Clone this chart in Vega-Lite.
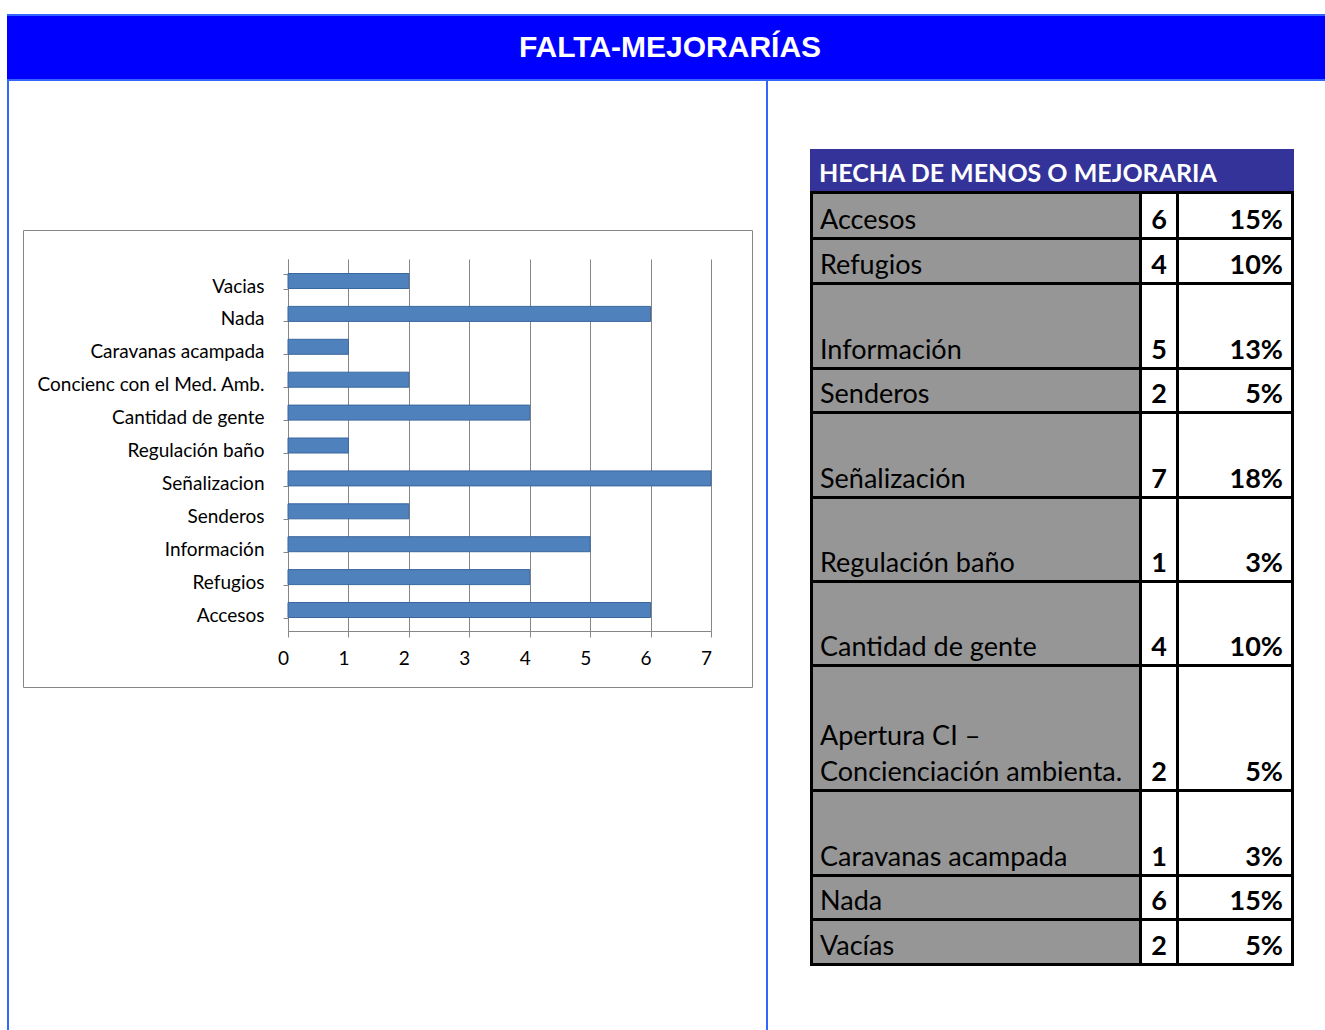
{
"$schema": "https://vega.github.io/schema/vega-lite/v6.json",
"padding": {"left": 7, "top": 14, "right": 0, "bottom": 0},
"background": "#ffffff",
"spacing": 0,
"config": {
  "view": {"stroke": null},
  "concat": {"spacing": 0},
  "style": {
    "lbl": {"align": "left", "baseline": "bottom", "dx": 7, "dy": -2.5, "font": "Lato", "fontSize": 27, "lineBreak": "\n", "lineHeight": 36},
    "num": {"align": "center", "baseline": "bottom", "dy": -2.5, "font": "Lato", "fontSize": 27, "fontWeight": "bold"},
    "pct": {"align": "right", "baseline": "bottom", "dx": -8, "dy": -2.5, "font": "Lato", "fontSize": 27, "fontWeight": "bold"},
    "hdr": {"align": "left", "baseline": "bottom", "dx": 9, "dy": -4, "font": "Lato", "fontSize": 25, "fontWeight": "bold"}
  }
},
"datasets": {
  "titulo": [{"texto": "FALTA-MEJORARÍAS"}],
  "encabezado": [{"texto": "HECHA DE MENOS O MEJORARIA"}],
  "filas": [
    {"tema": "Accesos", "grafico": "Accesos", "n": 6, "pct": 0.15},
    {"tema": "Refugios", "grafico": "Refugios", "n": 4, "pct": 0.10},
    {"tema": "Información", "grafico": "Información", "n": 5, "pct": 0.13},
    {"tema": "Senderos", "grafico": "Senderos", "n": 2, "pct": 0.05},
    {"tema": "Señalización", "grafico": "Señalizacion", "n": 7, "pct": 0.18},
    {"tema": "Regulación baño", "grafico": "Regulación baño", "n": 1, "pct": 0.03},
    {"tema": "Cantidad de gente", "grafico": "Cantidad de gente", "n": 4, "pct": 0.10},
    {"tema": "Apertura CI –\nConcienciación ambienta.", "grafico": "Concienc con el Med. Amb.", "n": 2, "pct": 0.05},
    {"tema": "Caravanas acampada", "grafico": "Caravanas acampada", "n": 1, "pct": 0.03},
    {"tema": "Nada", "grafico": "Nada", "n": 6, "pct": 0.15},
    {"tema": "Vacías", "grafico": "Vacias", "n": 2, "pct": 0.05}
  ]
},
"vconcat": [
  {"width": 1326, "height": 2, "view": {"fill": "#3366ff"}, "data": {"values": []}, "mark": "point"},
  {
    "width": 1326, "height": 63,
    "view": {"fill": "#0000ff"},
    "data": {"name": "titulo"},
    "mark": {"type": "text", "font": "Liberation Sans", "fontWeight": "bold", "fontSize": 30, "color": "#ffffff", "align": "center", "baseline": "middle"},
    "encoding": {"text": {"field": "texto"}}
  },
  {"width": 1326, "height": 2, "view": {"fill": "#3366ff"}, "data": {"values": []}, "mark": "point"},
  {
    "hconcat": [
      {"width": 2, "height": 960, "view": {"fill": "#3366ff"}, "data": {"values": []}, "mark": "point"},
      {
        "vconcat": [
          {"width": 757, "height": 139, "data": {"values": []}, "mark": "point"},
          {
            "hconcat": [
              {"width": 13, "height": 457, "data": {"values": []}, "mark": "point"},
              {
                "width": 729, "height": 457,
                "view": {"fill": "#ffffff", "stroke": "#868686", "strokeWidth": 1},
                "data": {"name": "filas"},
                "encoding": {
                  "y": {"field": "grafico", "type": "nominal",
                    "sort": ["Vacias", "Nada", "Caravanas acampada", "Concienc con el Med. Amb.", "Cantidad de gente", "Regulación baño", "Señalizacion", "Senderos", "Información", "Refugios", "Accesos"],
                    "scale": {"range": [29, 401], "paddingInner": 0.544, "paddingOuter": 0.4255, "align": 0.518},
                    "axis": {"title": null, "offset": -265, "domainColor": "#868686", "tickColor": "#868686", "tickSize": 5, "tickBand": "extent", "labelPadding": 19, "labelFont": "Lato", "labelFontSize": 19, "labelColor": "#000000", "labelOffset": 5, "labelLimit": 400}}
                },
                "layer": [
                  {
                    "mark": {"type": "bar", "opacity": 0},
                    "encoding": {"x": {"field": "n", "type": "quantitative",
                      "scale": {"domain": [0, 7], "range": [265, 688], "nice": false},
                      "axis": {"orient": "top", "title": null, "values": [0, 1, 2, 3, 4, 5, 6, 7], "grid": true, "gridColor": "#868686", "labels": false, "ticks": false, "domain": false}}}
                  },
                  {
                    "mark": {"type": "bar", "fill": "#4F81BD", "stroke": "#3A679E", "strokeWidth": 1},
                    "encoding": {"x": {"field": "n", "type": "quantitative",
                      "scale": {"domain": [0, 7], "range": [265, 688], "nice": false},
                      "axis": {"orient": "bottom", "title": null, "offset": -56, "values": [0, 1, 2, 3, 4, 5, 6, 7], "format": "d", "grid": false, "domainColor": "#868686", "tickColor": "#868686", "tickSize": 6, "labelPadding": 12, "labelOffset": -5, "labelFlush": false, "labelFont": "Lato", "labelFontSize": 19, "labelColor": "#000000"}}}
                  }
                ],
                "resolve": {"axis": {"x": "independent"}}
              },
              {"width": 13, "height": 457, "data": {"values": []}, "mark": "point"}
            ]
          },
          {"width": 757, "height": 350, "data": {"values": []}, "mark": "point"}
        ]
      },
      {"width": 2, "height": 960, "view": {"fill": "#3366ff"}, "data": {"values": []}, "mark": "point"},
      {
        "hconcat": [
          {"width": 42, "height": 10, "data": {"values": []}, "mark": "point"},
          {
            "vconcat": [
              {"width": 484, "height": 68, "data": {"values": []}, "mark": "point"},
              {"width": 484, "height": 42, "view": {"fill": "#333399"}, "data": {"name": "encabezado"}, "mark": {"type": "text", "style": "hdr", "color": "#ffffff"},
               "encoding": {"x": {"field": "texto", "type": "nominal", "axis": null, "scale": {"type": "band", "padding": 0}, "bandPosition": 0}, "y": {"field": "texto", "type": "nominal", "axis": null, "scale": {"type": "band", "padding": 0}, "bandPosition": 1}, "text": {"field": "texto"}}},
              {"width": 484, "height": 3, "view": {"fill": "#000000"}, "data": {"values": []}, "mark": "point"},
              {"hconcat": [
                {"width": 3, "height": 43, "view": {"fill": "#000000"}, "data": {"values": []}, "mark": "point"},
                {"width": 326, "height": 43, "view": {"fill": "#969696"}, "data": {"name": "filas"}, "transform": [{"filter": {"field": "grafico", "equal": "Accesos"}}], "mark": {"type": "text", "style": "lbl", "color": "#000000"}, "encoding": {"x": {"field": "grafico", "type": "nominal", "axis": null, "scale": {"type": "band", "padding": 0}, "bandPosition": 0}, "y": {"field": "grafico", "type": "nominal", "axis": null, "scale": {"type": "band", "padding": 0}, "bandPosition": 1}, "text": {"field": "tema"}}},
                {"width": 3, "height": 43, "view": {"fill": "#000000"}, "data": {"values": []}, "mark": "point"},
                {"width": 34, "height": 43, "view": {"fill": "#ffffff"}, "data": {"name": "filas"}, "transform": [{"filter": {"field": "grafico", "equal": "Accesos"}}], "mark": {"type": "text", "style": "num", "color": "#000000"}, "encoding": {"x": {"field": "grafico", "type": "nominal", "axis": null, "scale": {"type": "band", "padding": 0}, "bandPosition": 0.5}, "y": {"field": "grafico", "type": "nominal", "axis": null, "scale": {"type": "band", "padding": 0}, "bandPosition": 1}, "text": {"field": "n", "type": "quantitative"}}},
                {"width": 3, "height": 43, "view": {"fill": "#000000"}, "data": {"values": []}, "mark": "point"},
                {"width": 112, "height": 43, "view": {"fill": "#ffffff"}, "data": {"name": "filas"}, "transform": [{"filter": {"field": "grafico", "equal": "Accesos"}}], "mark": {"type": "text", "style": "pct", "color": "#000000"}, "encoding": {"x": {"field": "grafico", "type": "nominal", "axis": null, "scale": {"type": "band", "padding": 0}, "bandPosition": 1}, "y": {"field": "grafico", "type": "nominal", "axis": null, "scale": {"type": "band", "padding": 0}, "bandPosition": 1}, "text": {"field": "pct", "type": "quantitative", "format": ".0%"}}},
                {"width": 3, "height": 43, "view": {"fill": "#000000"}, "data": {"values": []}, "mark": "point"}
              ]},
              {"width": 484, "height": 3, "view": {"fill": "#000000"}, "data": {"values": []}, "mark": "point"},
              {"hconcat": [
                {"width": 3, "height": 42, "view": {"fill": "#000000"}, "data": {"values": []}, "mark": "point"},
                {"width": 326, "height": 42, "view": {"fill": "#969696"}, "data": {"name": "filas"}, "transform": [{"filter": {"field": "grafico", "equal": "Refugios"}}], "mark": {"type": "text", "style": "lbl", "color": "#000000"}, "encoding": {"x": {"field": "grafico", "type": "nominal", "axis": null, "scale": {"type": "band", "padding": 0}, "bandPosition": 0}, "y": {"field": "grafico", "type": "nominal", "axis": null, "scale": {"type": "band", "padding": 0}, "bandPosition": 1}, "text": {"field": "tema"}}},
                {"width": 3, "height": 42, "view": {"fill": "#000000"}, "data": {"values": []}, "mark": "point"},
                {"width": 34, "height": 42, "view": {"fill": "#ffffff"}, "data": {"name": "filas"}, "transform": [{"filter": {"field": "grafico", "equal": "Refugios"}}], "mark": {"type": "text", "style": "num", "color": "#000000"}, "encoding": {"x": {"field": "grafico", "type": "nominal", "axis": null, "scale": {"type": "band", "padding": 0}, "bandPosition": 0.5}, "y": {"field": "grafico", "type": "nominal", "axis": null, "scale": {"type": "band", "padding": 0}, "bandPosition": 1}, "text": {"field": "n", "type": "quantitative"}}},
                {"width": 3, "height": 42, "view": {"fill": "#000000"}, "data": {"values": []}, "mark": "point"},
                {"width": 112, "height": 42, "view": {"fill": "#ffffff"}, "data": {"name": "filas"}, "transform": [{"filter": {"field": "grafico", "equal": "Refugios"}}], "mark": {"type": "text", "style": "pct", "color": "#000000"}, "encoding": {"x": {"field": "grafico", "type": "nominal", "axis": null, "scale": {"type": "band", "padding": 0}, "bandPosition": 1}, "y": {"field": "grafico", "type": "nominal", "axis": null, "scale": {"type": "band", "padding": 0}, "bandPosition": 1}, "text": {"field": "pct", "type": "quantitative", "format": ".0%"}}},
                {"width": 3, "height": 42, "view": {"fill": "#000000"}, "data": {"values": []}, "mark": "point"}
              ]},
              {"width": 484, "height": 3, "view": {"fill": "#000000"}, "data": {"values": []}, "mark": "point"},
              {"hconcat": [
                {"width": 3, "height": 82, "view": {"fill": "#000000"}, "data": {"values": []}, "mark": "point"},
                {"width": 326, "height": 82, "view": {"fill": "#969696"}, "data": {"name": "filas"}, "transform": [{"filter": {"field": "grafico", "equal": "Información"}}], "mark": {"type": "text", "style": "lbl", "color": "#000000"}, "encoding": {"x": {"field": "grafico", "type": "nominal", "axis": null, "scale": {"type": "band", "padding": 0}, "bandPosition": 0}, "y": {"field": "grafico", "type": "nominal", "axis": null, "scale": {"type": "band", "padding": 0}, "bandPosition": 1}, "text": {"field": "tema"}}},
                {"width": 3, "height": 82, "view": {"fill": "#000000"}, "data": {"values": []}, "mark": "point"},
                {"width": 34, "height": 82, "view": {"fill": "#ffffff"}, "data": {"name": "filas"}, "transform": [{"filter": {"field": "grafico", "equal": "Información"}}], "mark": {"type": "text", "style": "num", "color": "#000000"}, "encoding": {"x": {"field": "grafico", "type": "nominal", "axis": null, "scale": {"type": "band", "padding": 0}, "bandPosition": 0.5}, "y": {"field": "grafico", "type": "nominal", "axis": null, "scale": {"type": "band", "padding": 0}, "bandPosition": 1}, "text": {"field": "n", "type": "quantitative"}}},
                {"width": 3, "height": 82, "view": {"fill": "#000000"}, "data": {"values": []}, "mark": "point"},
                {"width": 112, "height": 82, "view": {"fill": "#ffffff"}, "data": {"name": "filas"}, "transform": [{"filter": {"field": "grafico", "equal": "Información"}}], "mark": {"type": "text", "style": "pct", "color": "#000000"}, "encoding": {"x": {"field": "grafico", "type": "nominal", "axis": null, "scale": {"type": "band", "padding": 0}, "bandPosition": 1}, "y": {"field": "grafico", "type": "nominal", "axis": null, "scale": {"type": "band", "padding": 0}, "bandPosition": 1}, "text": {"field": "pct", "type": "quantitative", "format": ".0%"}}},
                {"width": 3, "height": 82, "view": {"fill": "#000000"}, "data": {"values": []}, "mark": "point"}
              ]},
              {"width": 484, "height": 3, "view": {"fill": "#000000"}, "data": {"values": []}, "mark": "point"},
              {"hconcat": [
                {"width": 3, "height": 41, "view": {"fill": "#000000"}, "data": {"values": []}, "mark": "point"},
                {"width": 326, "height": 41, "view": {"fill": "#969696"}, "data": {"name": "filas"}, "transform": [{"filter": {"field": "grafico", "equal": "Senderos"}}], "mark": {"type": "text", "style": "lbl", "color": "#000000"}, "encoding": {"x": {"field": "grafico", "type": "nominal", "axis": null, "scale": {"type": "band", "padding": 0}, "bandPosition": 0}, "y": {"field": "grafico", "type": "nominal", "axis": null, "scale": {"type": "band", "padding": 0}, "bandPosition": 1}, "text": {"field": "tema"}}},
                {"width": 3, "height": 41, "view": {"fill": "#000000"}, "data": {"values": []}, "mark": "point"},
                {"width": 34, "height": 41, "view": {"fill": "#ffffff"}, "data": {"name": "filas"}, "transform": [{"filter": {"field": "grafico", "equal": "Senderos"}}], "mark": {"type": "text", "style": "num", "color": "#000000"}, "encoding": {"x": {"field": "grafico", "type": "nominal", "axis": null, "scale": {"type": "band", "padding": 0}, "bandPosition": 0.5}, "y": {"field": "grafico", "type": "nominal", "axis": null, "scale": {"type": "band", "padding": 0}, "bandPosition": 1}, "text": {"field": "n", "type": "quantitative"}}},
                {"width": 3, "height": 41, "view": {"fill": "#000000"}, "data": {"values": []}, "mark": "point"},
                {"width": 112, "height": 41, "view": {"fill": "#ffffff"}, "data": {"name": "filas"}, "transform": [{"filter": {"field": "grafico", "equal": "Senderos"}}], "mark": {"type": "text", "style": "pct", "color": "#000000"}, "encoding": {"x": {"field": "grafico", "type": "nominal", "axis": null, "scale": {"type": "band", "padding": 0}, "bandPosition": 1}, "y": {"field": "grafico", "type": "nominal", "axis": null, "scale": {"type": "band", "padding": 0}, "bandPosition": 1}, "text": {"field": "pct", "type": "quantitative", "format": ".0%"}}},
                {"width": 3, "height": 41, "view": {"fill": "#000000"}, "data": {"values": []}, "mark": "point"}
              ]},
              {"width": 484, "height": 3, "view": {"fill": "#000000"}, "data": {"values": []}, "mark": "point"},
              {"hconcat": [
                {"width": 3, "height": 82, "view": {"fill": "#000000"}, "data": {"values": []}, "mark": "point"},
                {"width": 326, "height": 82, "view": {"fill": "#969696"}, "data": {"name": "filas"}, "transform": [{"filter": {"field": "grafico", "equal": "Señalizacion"}}], "mark": {"type": "text", "style": "lbl", "color": "#000000"}, "encoding": {"x": {"field": "grafico", "type": "nominal", "axis": null, "scale": {"type": "band", "padding": 0}, "bandPosition": 0}, "y": {"field": "grafico", "type": "nominal", "axis": null, "scale": {"type": "band", "padding": 0}, "bandPosition": 1}, "text": {"field": "tema"}}},
                {"width": 3, "height": 82, "view": {"fill": "#000000"}, "data": {"values": []}, "mark": "point"},
                {"width": 34, "height": 82, "view": {"fill": "#ffffff"}, "data": {"name": "filas"}, "transform": [{"filter": {"field": "grafico", "equal": "Señalizacion"}}], "mark": {"type": "text", "style": "num", "color": "#000000"}, "encoding": {"x": {"field": "grafico", "type": "nominal", "axis": null, "scale": {"type": "band", "padding": 0}, "bandPosition": 0.5}, "y": {"field": "grafico", "type": "nominal", "axis": null, "scale": {"type": "band", "padding": 0}, "bandPosition": 1}, "text": {"field": "n", "type": "quantitative"}}},
                {"width": 3, "height": 82, "view": {"fill": "#000000"}, "data": {"values": []}, "mark": "point"},
                {"width": 112, "height": 82, "view": {"fill": "#ffffff"}, "data": {"name": "filas"}, "transform": [{"filter": {"field": "grafico", "equal": "Señalizacion"}}], "mark": {"type": "text", "style": "pct", "color": "#000000"}, "encoding": {"x": {"field": "grafico", "type": "nominal", "axis": null, "scale": {"type": "band", "padding": 0}, "bandPosition": 1}, "y": {"field": "grafico", "type": "nominal", "axis": null, "scale": {"type": "band", "padding": 0}, "bandPosition": 1}, "text": {"field": "pct", "type": "quantitative", "format": ".0%"}}},
                {"width": 3, "height": 82, "view": {"fill": "#000000"}, "data": {"values": []}, "mark": "point"}
              ]},
              {"width": 484, "height": 3, "view": {"fill": "#000000"}, "data": {"values": []}, "mark": "point"},
              {"hconcat": [
                {"width": 3, "height": 81, "view": {"fill": "#000000"}, "data": {"values": []}, "mark": "point"},
                {"width": 326, "height": 81, "view": {"fill": "#969696"}, "data": {"name": "filas"}, "transform": [{"filter": {"field": "grafico", "equal": "Regulación baño"}}], "mark": {"type": "text", "style": "lbl", "color": "#000000"}, "encoding": {"x": {"field": "grafico", "type": "nominal", "axis": null, "scale": {"type": "band", "padding": 0}, "bandPosition": 0}, "y": {"field": "grafico", "type": "nominal", "axis": null, "scale": {"type": "band", "padding": 0}, "bandPosition": 1}, "text": {"field": "tema"}}},
                {"width": 3, "height": 81, "view": {"fill": "#000000"}, "data": {"values": []}, "mark": "point"},
                {"width": 34, "height": 81, "view": {"fill": "#ffffff"}, "data": {"name": "filas"}, "transform": [{"filter": {"field": "grafico", "equal": "Regulación baño"}}], "mark": {"type": "text", "style": "num", "color": "#000000"}, "encoding": {"x": {"field": "grafico", "type": "nominal", "axis": null, "scale": {"type": "band", "padding": 0}, "bandPosition": 0.5}, "y": {"field": "grafico", "type": "nominal", "axis": null, "scale": {"type": "band", "padding": 0}, "bandPosition": 1}, "text": {"field": "n", "type": "quantitative"}}},
                {"width": 3, "height": 81, "view": {"fill": "#000000"}, "data": {"values": []}, "mark": "point"},
                {"width": 112, "height": 81, "view": {"fill": "#ffffff"}, "data": {"name": "filas"}, "transform": [{"filter": {"field": "grafico", "equal": "Regulación baño"}}], "mark": {"type": "text", "style": "pct", "color": "#000000"}, "encoding": {"x": {"field": "grafico", "type": "nominal", "axis": null, "scale": {"type": "band", "padding": 0}, "bandPosition": 1}, "y": {"field": "grafico", "type": "nominal", "axis": null, "scale": {"type": "band", "padding": 0}, "bandPosition": 1}, "text": {"field": "pct", "type": "quantitative", "format": ".0%"}}},
                {"width": 3, "height": 81, "view": {"fill": "#000000"}, "data": {"values": []}, "mark": "point"}
              ]},
              {"width": 484, "height": 3, "view": {"fill": "#000000"}, "data": {"values": []}, "mark": "point"},
              {"hconcat": [
                {"width": 3, "height": 81, "view": {"fill": "#000000"}, "data": {"values": []}, "mark": "point"},
                {"width": 326, "height": 81, "view": {"fill": "#969696"}, "data": {"name": "filas"}, "transform": [{"filter": {"field": "grafico", "equal": "Cantidad de gente"}}], "mark": {"type": "text", "style": "lbl", "color": "#000000"}, "encoding": {"x": {"field": "grafico", "type": "nominal", "axis": null, "scale": {"type": "band", "padding": 0}, "bandPosition": 0}, "y": {"field": "grafico", "type": "nominal", "axis": null, "scale": {"type": "band", "padding": 0}, "bandPosition": 1}, "text": {"field": "tema"}}},
                {"width": 3, "height": 81, "view": {"fill": "#000000"}, "data": {"values": []}, "mark": "point"},
                {"width": 34, "height": 81, "view": {"fill": "#ffffff"}, "data": {"name": "filas"}, "transform": [{"filter": {"field": "grafico", "equal": "Cantidad de gente"}}], "mark": {"type": "text", "style": "num", "color": "#000000"}, "encoding": {"x": {"field": "grafico", "type": "nominal", "axis": null, "scale": {"type": "band", "padding": 0}, "bandPosition": 0.5}, "y": {"field": "grafico", "type": "nominal", "axis": null, "scale": {"type": "band", "padding": 0}, "bandPosition": 1}, "text": {"field": "n", "type": "quantitative"}}},
                {"width": 3, "height": 81, "view": {"fill": "#000000"}, "data": {"values": []}, "mark": "point"},
                {"width": 112, "height": 81, "view": {"fill": "#ffffff"}, "data": {"name": "filas"}, "transform": [{"filter": {"field": "grafico", "equal": "Cantidad de gente"}}], "mark": {"type": "text", "style": "pct", "color": "#000000"}, "encoding": {"x": {"field": "grafico", "type": "nominal", "axis": null, "scale": {"type": "band", "padding": 0}, "bandPosition": 1}, "y": {"field": "grafico", "type": "nominal", "axis": null, "scale": {"type": "band", "padding": 0}, "bandPosition": 1}, "text": {"field": "pct", "type": "quantitative", "format": ".0%"}}},
                {"width": 3, "height": 81, "view": {"fill": "#000000"}, "data": {"values": []}, "mark": "point"}
              ]},
              {"width": 484, "height": 3, "view": {"fill": "#000000"}, "data": {"values": []}, "mark": "point"},
              {"hconcat": [
                {"width": 3, "height": 122, "view": {"fill": "#000000"}, "data": {"values": []}, "mark": "point"},
                {"width": 326, "height": 122, "view": {"fill": "#969696"}, "data": {"name": "filas"}, "transform": [{"filter": {"field": "grafico", "equal": "Concienc con el Med. Amb."}}], "mark": {"type": "text", "style": "lbl", "color": "#000000", "dy": -38.5}, "encoding": {"x": {"field": "grafico", "type": "nominal", "axis": null, "scale": {"type": "band", "padding": 0}, "bandPosition": 0}, "y": {"field": "grafico", "type": "nominal", "axis": null, "scale": {"type": "band", "padding": 0}, "bandPosition": 1}, "text": {"field": "tema"}}},
                {"width": 3, "height": 122, "view": {"fill": "#000000"}, "data": {"values": []}, "mark": "point"},
                {"width": 34, "height": 122, "view": {"fill": "#ffffff"}, "data": {"name": "filas"}, "transform": [{"filter": {"field": "grafico", "equal": "Concienc con el Med. Amb."}}], "mark": {"type": "text", "style": "num", "color": "#000000"}, "encoding": {"x": {"field": "grafico", "type": "nominal", "axis": null, "scale": {"type": "band", "padding": 0}, "bandPosition": 0.5}, "y": {"field": "grafico", "type": "nominal", "axis": null, "scale": {"type": "band", "padding": 0}, "bandPosition": 1}, "text": {"field": "n", "type": "quantitative"}}},
                {"width": 3, "height": 122, "view": {"fill": "#000000"}, "data": {"values": []}, "mark": "point"},
                {"width": 112, "height": 122, "view": {"fill": "#ffffff"}, "data": {"name": "filas"}, "transform": [{"filter": {"field": "grafico", "equal": "Concienc con el Med. Amb."}}], "mark": {"type": "text", "style": "pct", "color": "#000000"}, "encoding": {"x": {"field": "grafico", "type": "nominal", "axis": null, "scale": {"type": "band", "padding": 0}, "bandPosition": 1}, "y": {"field": "grafico", "type": "nominal", "axis": null, "scale": {"type": "band", "padding": 0}, "bandPosition": 1}, "text": {"field": "pct", "type": "quantitative", "format": ".0%"}}},
                {"width": 3, "height": 122, "view": {"fill": "#000000"}, "data": {"values": []}, "mark": "point"}
              ]},
              {"width": 484, "height": 3, "view": {"fill": "#000000"}, "data": {"values": []}, "mark": "point"},
              {"hconcat": [
                {"width": 3, "height": 82, "view": {"fill": "#000000"}, "data": {"values": []}, "mark": "point"},
                {"width": 326, "height": 82, "view": {"fill": "#969696"}, "data": {"name": "filas"}, "transform": [{"filter": {"field": "grafico", "equal": "Caravanas acampada"}}], "mark": {"type": "text", "style": "lbl", "color": "#000000"}, "encoding": {"x": {"field": "grafico", "type": "nominal", "axis": null, "scale": {"type": "band", "padding": 0}, "bandPosition": 0}, "y": {"field": "grafico", "type": "nominal", "axis": null, "scale": {"type": "band", "padding": 0}, "bandPosition": 1}, "text": {"field": "tema"}}},
                {"width": 3, "height": 82, "view": {"fill": "#000000"}, "data": {"values": []}, "mark": "point"},
                {"width": 34, "height": 82, "view": {"fill": "#ffffff"}, "data": {"name": "filas"}, "transform": [{"filter": {"field": "grafico", "equal": "Caravanas acampada"}}], "mark": {"type": "text", "style": "num", "color": "#000000"}, "encoding": {"x": {"field": "grafico", "type": "nominal", "axis": null, "scale": {"type": "band", "padding": 0}, "bandPosition": 0.5}, "y": {"field": "grafico", "type": "nominal", "axis": null, "scale": {"type": "band", "padding": 0}, "bandPosition": 1}, "text": {"field": "n", "type": "quantitative"}}},
                {"width": 3, "height": 82, "view": {"fill": "#000000"}, "data": {"values": []}, "mark": "point"},
                {"width": 112, "height": 82, "view": {"fill": "#ffffff"}, "data": {"name": "filas"}, "transform": [{"filter": {"field": "grafico", "equal": "Caravanas acampada"}}], "mark": {"type": "text", "style": "pct", "color": "#000000"}, "encoding": {"x": {"field": "grafico", "type": "nominal", "axis": null, "scale": {"type": "band", "padding": 0}, "bandPosition": 1}, "y": {"field": "grafico", "type": "nominal", "axis": null, "scale": {"type": "band", "padding": 0}, "bandPosition": 1}, "text": {"field": "pct", "type": "quantitative", "format": ".0%"}}},
                {"width": 3, "height": 82, "view": {"fill": "#000000"}, "data": {"values": []}, "mark": "point"}
              ]},
              {"width": 484, "height": 3, "view": {"fill": "#000000"}, "data": {"values": []}, "mark": "point"},
              {"hconcat": [
                {"width": 3, "height": 41, "view": {"fill": "#000000"}, "data": {"values": []}, "mark": "point"},
                {"width": 326, "height": 41, "view": {"fill": "#969696"}, "data": {"name": "filas"}, "transform": [{"filter": {"field": "grafico", "equal": "Nada"}}], "mark": {"type": "text", "style": "lbl", "color": "#000000"}, "encoding": {"x": {"field": "grafico", "type": "nominal", "axis": null, "scale": {"type": "band", "padding": 0}, "bandPosition": 0}, "y": {"field": "grafico", "type": "nominal", "axis": null, "scale": {"type": "band", "padding": 0}, "bandPosition": 1}, "text": {"field": "tema"}}},
                {"width": 3, "height": 41, "view": {"fill": "#000000"}, "data": {"values": []}, "mark": "point"},
                {"width": 34, "height": 41, "view": {"fill": "#ffffff"}, "data": {"name": "filas"}, "transform": [{"filter": {"field": "grafico", "equal": "Nada"}}], "mark": {"type": "text", "style": "num", "color": "#000000"}, "encoding": {"x": {"field": "grafico", "type": "nominal", "axis": null, "scale": {"type": "band", "padding": 0}, "bandPosition": 0.5}, "y": {"field": "grafico", "type": "nominal", "axis": null, "scale": {"type": "band", "padding": 0}, "bandPosition": 1}, "text": {"field": "n", "type": "quantitative"}}},
                {"width": 3, "height": 41, "view": {"fill": "#000000"}, "data": {"values": []}, "mark": "point"},
                {"width": 112, "height": 41, "view": {"fill": "#ffffff"}, "data": {"name": "filas"}, "transform": [{"filter": {"field": "grafico", "equal": "Nada"}}], "mark": {"type": "text", "style": "pct", "color": "#000000"}, "encoding": {"x": {"field": "grafico", "type": "nominal", "axis": null, "scale": {"type": "band", "padding": 0}, "bandPosition": 1}, "y": {"field": "grafico", "type": "nominal", "axis": null, "scale": {"type": "band", "padding": 0}, "bandPosition": 1}, "text": {"field": "pct", "type": "quantitative", "format": ".0%"}}},
                {"width": 3, "height": 41, "view": {"fill": "#000000"}, "data": {"values": []}, "mark": "point"}
              ]},
              {"width": 484, "height": 3, "view": {"fill": "#000000"}, "data": {"values": []}, "mark": "point"},
              {"hconcat": [
                {"width": 3, "height": 42, "view": {"fill": "#000000"}, "data": {"values": []}, "mark": "point"},
                {"width": 326, "height": 42, "view": {"fill": "#969696"}, "data": {"name": "filas"}, "transform": [{"filter": {"field": "grafico", "equal": "Vacias"}}], "mark": {"type": "text", "style": "lbl", "color": "#000000"}, "encoding": {"x": {"field": "grafico", "type": "nominal", "axis": null, "scale": {"type": "band", "padding": 0}, "bandPosition": 0}, "y": {"field": "grafico", "type": "nominal", "axis": null, "scale": {"type": "band", "padding": 0}, "bandPosition": 1}, "text": {"field": "tema"}}},
                {"width": 3, "height": 42, "view": {"fill": "#000000"}, "data": {"values": []}, "mark": "point"},
                {"width": 34, "height": 42, "view": {"fill": "#ffffff"}, "data": {"name": "filas"}, "transform": [{"filter": {"field": "grafico", "equal": "Vacias"}}], "mark": {"type": "text", "style": "num", "color": "#000000"}, "encoding": {"x": {"field": "grafico", "type": "nominal", "axis": null, "scale": {"type": "band", "padding": 0}, "bandPosition": 0.5}, "y": {"field": "grafico", "type": "nominal", "axis": null, "scale": {"type": "band", "padding": 0}, "bandPosition": 1}, "text": {"field": "n", "type": "quantitative"}}},
                {"width": 3, "height": 42, "view": {"fill": "#000000"}, "data": {"values": []}, "mark": "point"},
                {"width": 112, "height": 42, "view": {"fill": "#ffffff"}, "data": {"name": "filas"}, "transform": [{"filter": {"field": "grafico", "equal": "Vacias"}}], "mark": {"type": "text", "style": "pct", "color": "#000000"}, "encoding": {"x": {"field": "grafico", "type": "nominal", "axis": null, "scale": {"type": "band", "padding": 0}, "bandPosition": 1}, "y": {"field": "grafico", "type": "nominal", "axis": null, "scale": {"type": "band", "padding": 0}, "bandPosition": 1}, "text": {"field": "pct", "type": "quantitative", "format": ".0%"}}},
                {"width": 3, "height": 42, "view": {"fill": "#000000"}, "data": {"values": []}, "mark": "point"}
              ]},
              {"width": 484, "height": 3, "view": {"fill": "#000000"}, "data": {"values": []}, "mark": "point"}
            ]
          }
        ]
      }
    ]
  }
]
}
